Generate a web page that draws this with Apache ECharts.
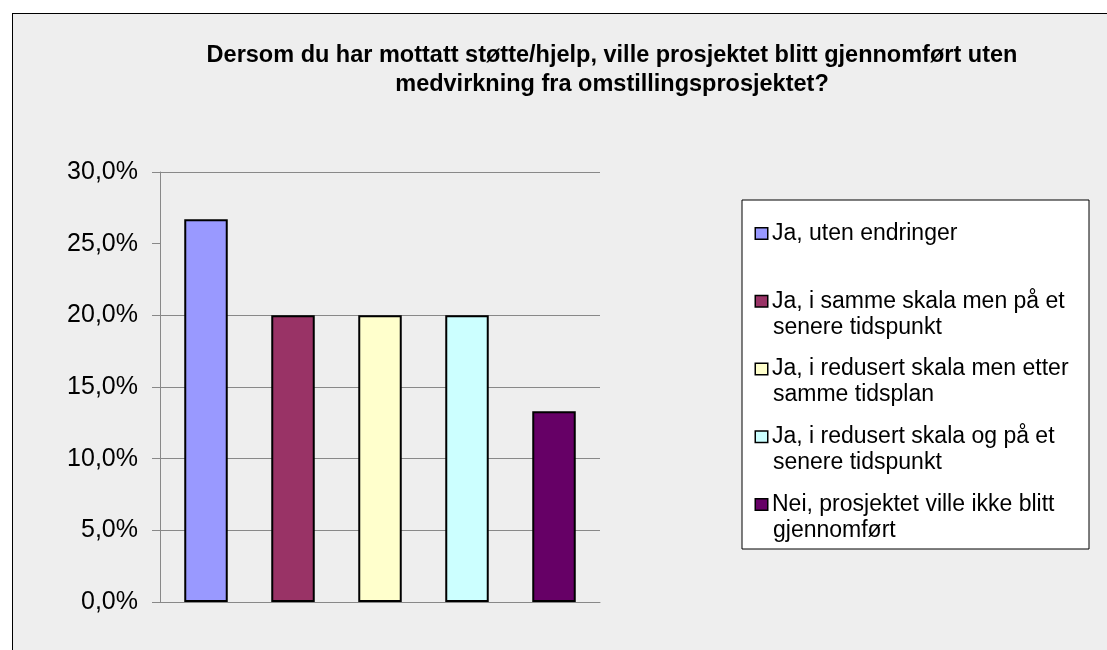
<!DOCTYPE html>
<html>
<head>
<meta charset="utf-8">
<title>Omstillingsprosjektet</title>
<script src="https://cdn.jsdelivr.net/npm/echarts@6/dist/echarts.min.js"></script>
<style>
  html, body { margin: 0; padding: 0; background: #fff; }
  #frame { position: absolute; left: 12px; top: 13px; width: 1200px; height: 700px;
           background: #eeeeee; border: 1px solid #000; }
  #chart { position: absolute; left: 0; top: 0; width: 1107px; height: 650px; }
</style>
</head>
<body>
<div id="frame"></div>
<div id="chart"></div>
<script>
// data
var categories = ['']
var seriesNames = [
  'Ja, uten endringer',
  'Ja, i samme skala men på et senere tidspunkt',
  'Ja, i redusert skala men etter samme tidsplan',
  'Ja, i redusert skala og på et senere tidspunkt',
  'Nei, prosjektet ville ikke blitt gjennomført'
]
// legend wraps each name on two lines, like the original
var legendLines = [
  ['Ja, uten endringer', ''],
  ['Ja, i samme skala men på et', 'senere tidspunkt'],
  ['Ja, i redusert skala men etter', 'samme tidsplan'],
  ['Ja, i redusert skala og på et', 'senere tidspunkt'],
  ['Nei, prosjektet ville ikke blitt', 'gjennomført']
]
var values = [26.7, 20.0, 20.0, 20.0, 13.3]
var colors = ['#9999ff', '#993366', '#ffffcc', '#ccffff', '#660066']
// gridlines shown in the original (no line at 25 %)
var gridValues = [0, 5, 10, 15, 20, 30]

var font = "'Liberation Sans', Arial, sans-serif"
var chart = echarts.init(document.getElementById('chart'))

var rich = {
  g: { width: 5, height: 11 },
  ind: { width: 17, height: 11, lineHeight: 26 },
  t: { fontSize: 23, fontFamily: font, color: '#000', lineHeight: 26, width: 305 }
}
colors.forEach(function (c, i) {
  rich['m' + i] = { width: 11, height: 10, backgroundColor: c, borderColor: '#000', borderWidth: 1.5 }
})

var series = seriesNames.map(function (name, i) {
  var s = {
    name: name,
    type: 'bar',
    data: [values[i]],
    barWidth: 43.5,
    barGap: '100%',
    itemStyle: { color: colors[i], borderColor: '#000', borderWidth: 2 }
  }
  if (i === 0) {
    s.markLine = {
      silent: true,
      symbol: 'none',
      z: 1,
      label: { show: false },
      lineStyle: { color: '#888', width: 1, type: 'solid' },
      data: gridValues.map(function (v) { return { yAxis: v } })
    }
  }
  return s
})

chart.setOption({
  animation: false,
  title: {
    text: 'Dersom du har mottatt støtte/hjelp, ville prosjektet blitt gjennomført uten\nmedvirkning fra omstillingsprosjektet?',
    left: 607,
    top: 36,
    textAlign: 'center',
    textStyle: { fontFamily: font, fontSize: 23.5, fontWeight: 'bold', color: '#000', lineHeight: 29 }
  },
  legend: {
    orient: 'vertical',
    left: 742,
    top: 200,
    icon: 'none',
    itemWidth: 0,
    itemHeight: 0,
    itemGap: 18.75,
    padding: [22, 11, 7, 9],
    backgroundColor: '#fff',
    borderColor: '#000',
    borderWidth: 1,
    borderRadius: 0,
    selectedMode: false,
    data: seriesNames,
    textStyle: { fontSize: 23, fontFamily: font, color: '#000', rich: rich },
    formatter: function (name) {
      var i = seriesNames.indexOf(name)
      var l = legendLines[i]
      return '{m' + i + '|}{g|}{t|' + l[0] + '}\n{ind|}{t|' + l[1] + '}'
    }
  },
  grid: { left: 160, top: 172, width: 440, height: 430 },
  xAxis: {
    type: 'category',
    data: categories,
    axisLine: { lineStyle: { color: '#888', width: 1 } },
    axisTick: { show: false },
    axisLabel: { show: false }
  },
  yAxis: {
    type: 'value',
    min: 0,
    max: 30,
    interval: 5,
    axisLine: { show: true, lineStyle: { color: '#888', width: 1 } },
    axisTick: { show: true, length: 8, lineStyle: { color: '#888' } },
    splitLine: { show: false },
    axisLabel: {
      margin: 22,
      color: '#000',
      fontSize: 25,
      fontFamily: font,
      formatter: function (v) { return v.toFixed(1).replace('.', ',') + '%' }
    }
  },
  series: series
})
</script>
</body>
</html>
